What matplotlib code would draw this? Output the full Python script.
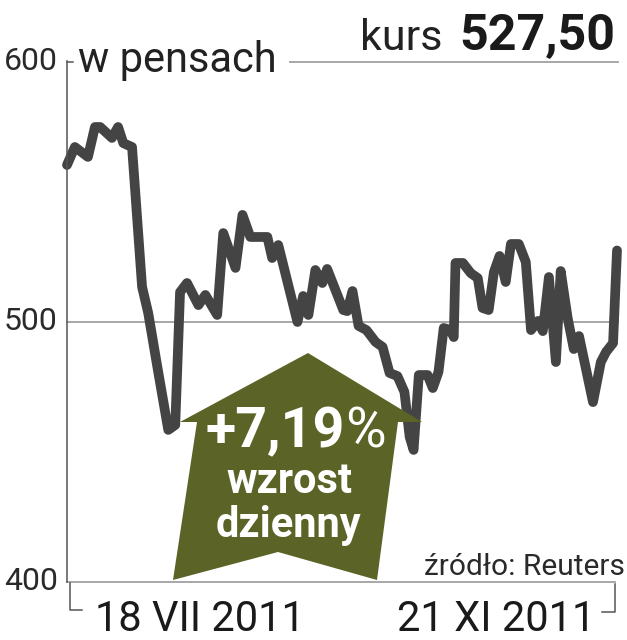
import matplotlib
matplotlib.use("Agg")
import matplotlib.pyplot as plt
from matplotlib.lines import Line2D
from matplotlib.patches import Polygon

# ---------------- data ----------------
# days since 18 VII 2011
days = [0, 1.8, 4.8, 6.4, 7.6, 10.3, 11.7, 12.9, 14.9, 17.2, 18.6, 20.7, 23.2, 24.8,
        25.9, 27.5, 30.1, 31.7, 34.4, 35.8, 38.6, 40.2, 42.0, 45.0, 45.9, 47.0, 48.4,
        52.8, 54.1, 55.3, 56.9, 58.5, 59.6, 63.3, 64.2, 65.4, 66.8, 68.6, 70.7, 72.3,
        73.9, 75.7, 77.3, 78.5, 79.4, 80.6, 82.6, 83.8, 85.1, 86.3, 87.9, 88.6, 89.0,
        90.7, 92.5, 94.1, 95.2, 96.6, 97.8, 99.1, 100.5, 101.7, 103.5, 105.1, 106.3,
        107.9, 109.0, 110.4, 112.0, 113.1, 114.7, 116.1, 117.3, 120.5, 122.3, 123.5,
        125.1, 126.0]
price = [560.4, 567.3, 563.5, 575.0, 575.0, 570.8, 575.0, 568.8, 567.3, 513.5, 503.5,
         482.7, 458.5, 460.4, 511.5, 515.0, 506.5, 510.4, 502.7, 534.2, 520.8, 541.2,
         532.7, 532.7, 532.7, 524.6, 529.6, 500.0, 510.0, 502.7, 520.0, 515.0, 520.4,
         504.6, 504.2, 511.9, 498.5, 496.9, 492.3, 490.4, 480.4, 479.2, 473.1, 455.8,
         450.8, 479.6, 479.6, 474.6, 480.8, 497.7, 496.9, 494.2, 522.7, 522.7, 518.8,
         516.9, 505.4, 504.6, 519.2, 525.4, 515.4, 530.0, 530.0, 523.1, 496.9, 500.4,
         496.5, 517.3, 484.6, 519.6, 501.5, 489.6, 494.6, 469.2, 484.6, 488.5, 491.9,
         527.5]
yticks = [400, 500, 600]
ytick_labels = ["400", "500", "600"]
date_labels = ["18 VII 2011", "21 XI 2011"]
unit_label = "w pensach"
kurs_label = "kurs"
kurs_value = "527,50"
badge_lines = ["+7,19", "%", "wzrost", "dzienny"]
source = "źródło: Reuters"

# ---------------- figure ----------------
W, H = 627, 640
fig = plt.figure(figsize=(W / 100, H / 100), dpi=100)
fig.patch.set_facecolor("white")

def fx(px):
    return px / W

def fy(py):
    return 1 - py / H

ax = fig.add_axes([fx(67), fy(582), 550 / W, 520 / H])
ax.set_xlim(0, 126)
ax.set_ylim(400, 600)
ax.axis("off")

FONT = "Roboto"
LINE_C = "#444444"
GRID_C = "#a0a0a0"
AX_C = "#555555"
GREEN = "#5b6426"

# gridlines
ax.axhline(500, xmin=0, xmax=551 / 550, color=GRID_C, lw=1.3, clip_on=False, zorder=1)
ax.axhline(600, xmin=(290 - 67) / 550, xmax=551 / 550, color=GRID_C, lw=1.3,
           clip_on=False, zorder=1)
ax.axhline(400, xmin=0, xmax=548 / 550, color=GRID_C, lw=1.3, clip_on=False, zorder=1)

# left axis
fig.add_artist(Line2D([fx(67), fx(67)], [fy(61), fy(582)], color=AX_C, lw=1.1))
fig.add_artist(Line2D([fx(67), fx(73)], [fy(61.5), fy(61.5)], color=AX_C, lw=1.1))
# bottom brackets
fig.add_artist(Line2D([fx(70), fx(70), fx(82)], [fy(583), fy(610), fy(610)],
                      color=AX_C, lw=1.1))
fig.add_artist(Line2D([fx(615), fx(615), fx(602)], [fy(584), fy(612), fy(612)],
                      color=AX_C, lw=1.1))

# y tick labels
for v, lab in zip(yticks, ytick_labels):
    ax.text(-9 / 550 * 126, v, lab, ha="right", va="center", fontsize=23,
            family=FONT, fontweight="normal", color="#2a2a2a", clip_on=False)

# green badge arrow (behind the line)
poly = [(308, 353), (422, 422), (398, 422), (377, 580), (278, 552), (173, 580),
        (197, 422), (180, 422)]
fig.add_artist(Polygon([(fx(x), fy(y)) for x, y in poly], closed=True,
                       facecolor=GREEN, edgecolor="none", zorder=0.5))

# price line
ax.plot(days, price, color=LINE_C, lw=7.0, solid_joinstyle="round",
        solid_capstyle="round", clip_on=False, zorder=3)

# badge text
fig.text(fx(345), fy(447), badge_lines[0], ha="right", va="baseline", fontsize=40,
         family=FONT, fontweight="bold", color="white", zorder=5)
fig.text(fx(345), fy(447), badge_lines[1], ha="left", va="baseline", fontsize=40,
         family=FONT, fontweight="normal", color="white", zorder=5)
fig.text(fx(289), fy(493), badge_lines[2], ha="center", va="baseline", fontsize=30,
         family=FONT, fontweight="bold", color="white", zorder=5)
fig.text(fx(288), fy(537), badge_lines[3], ha="center", va="baseline", fontsize=30,
         family=FONT, fontweight="bold", color="white", zorder=5)

# header
fig.text(fx(78), fy(72), unit_label, ha="left", va="baseline", fontsize=30,
         family=FONT, fontweight="normal", color="#222222")
fig.text(fx(360), fy(50), kurs_label, ha="left", va="baseline", fontsize=31,
         family=FONT, fontweight="normal", color="#222222")
fig.text(fx(615), fy(50), kurs_value, ha="right", va="baseline", fontsize=36,
         family=FONT, fontweight="bold", color="#1a1a1a")

# source
fig.text(fx(625), fy(575), source, ha="right", va="baseline", fontsize=21.5,
         family=FONT, fontweight="normal", color="#2a2a2a")

# date labels
fig.text(fx(95), fy(631), date_labels[0], ha="left", va="baseline", fontsize=30,
         family=FONT, fontweight="normal", color="#1a1a1a")
fig.text(fx(595), fy(631), date_labels[1], ha="right", va="baseline", fontsize=30,
         family=FONT, fontweight="normal", color="#1a1a1a")

fig.savefig("out.png", dpi=100, facecolor="white")
